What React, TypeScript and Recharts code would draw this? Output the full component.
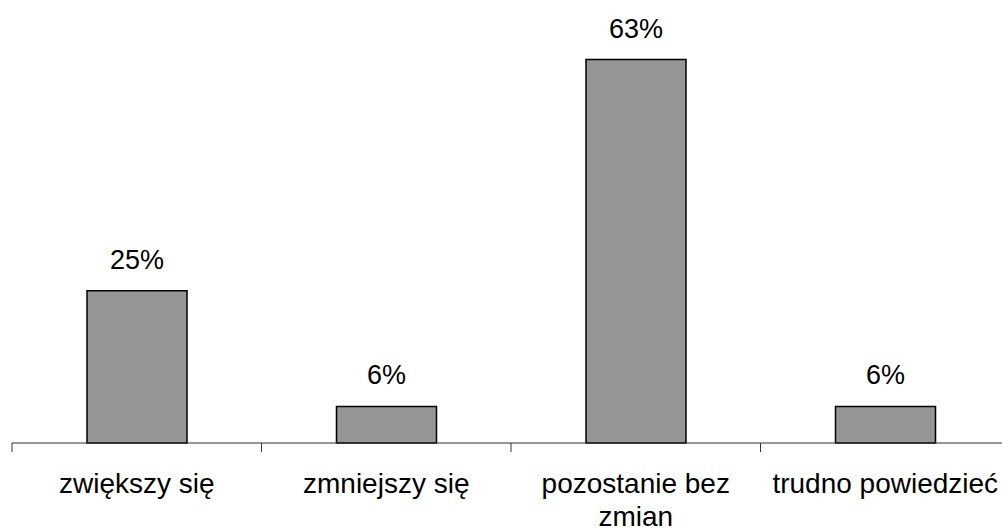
import React from "react";
import { BarChart, Bar, XAxis, YAxis, LabelList } from "recharts";

const categories = ["zwiększy się", "zmniejszy się", "pozostanie bez zmian", "trudno powiedzieć"];
const values = [25, 6, 63, 6];

const data = categories.map((name, i) => ({ name, value: values[i] }));

const FONT = "'Liberation Sans', Arial, sans-serif";
const TICK_FONT_SIZE = 28;

let measureCtx: CanvasRenderingContext2D | null = null;
const measure = (s: string) => {
  if (!measureCtx) {
    const c = document.createElement("canvas");
    measureCtx = c.getContext("2d");
  }
  if (!measureCtx) return s.length * TICK_FONT_SIZE * 0.5;
  measureCtx.font = `${TICK_FONT_SIZE}px ${FONT}`;
  return measureCtx.measureText(s).width;
};

const wrap = (s: string, maxW: number) => {
  const words = s.split(" ");
  const lines: string[] = [];
  let cur = "";
  words.forEach((w) => {
    const t = cur ? cur + " " + w : w;
    if (cur && measure(t) > maxW) {
      lines.push(cur);
      cur = w;
    } else {
      cur = t;
    }
  });
  if (cur) lines.push(cur);
  return lines;
};

const CatTick = (props: any) => {
  const { x, y, payload, width, visibleTicksCount } = props;
  const band = width / visibleTicksCount;
  const lines = wrap(String(payload.value), band - 12);
  return (
    <g>
      <line x1={x - band / 2} x2={x - band / 2} y1={y - 9} y2={y} stroke="#333" strokeWidth={1} />
      <text
        x={x}
        y={y + 41}
        textAnchor="middle"
        fontSize={TICK_FONT_SIZE}
        fontFamily={FONT}
        fill="#000"
      >
        {lines.map((l, i) => (
          <tspan key={i} x={x} dy={i === 0 ? 0 : 33}>
            {l}
          </tspan>
        ))}
      </text>
    </g>
  );
};

export default function App() {
  return (
    <div style={{ position: "absolute", left: 0, top: 0, width: 1002, height: 532, overflow: "hidden", background: "#fff" }}>
      <BarChart
        width={1010}
        height={532}
        data={data}
        margin={{ top: 17, right: 0, bottom: 0, left: 12 }}
      >
        <XAxis
          dataKey="name"
          height={89}
          interval={0}
          tickSize={9}
          tickMargin={0}
          tickLine={false}
          axisLine={{ stroke: "#333", strokeWidth: 1 }}
          tick={<CatTick />}
        />
        <YAxis hide domain={[0, 70]} />
        <Bar
          dataKey="value"
          fill="#969696"
          stroke="#000"
          strokeWidth={1.5}
          barSize={100}
          isAnimationActive={false}
        >
          <LabelList
            dataKey="value"
            position="top"
            offset={22}
            formatter={(v: any) => `${v}%`}
            style={{ fontSize: 27, fontFamily: FONT, fill: "#000" }}
          />
        </Bar>
      </BarChart>
    </div>
  );
}
